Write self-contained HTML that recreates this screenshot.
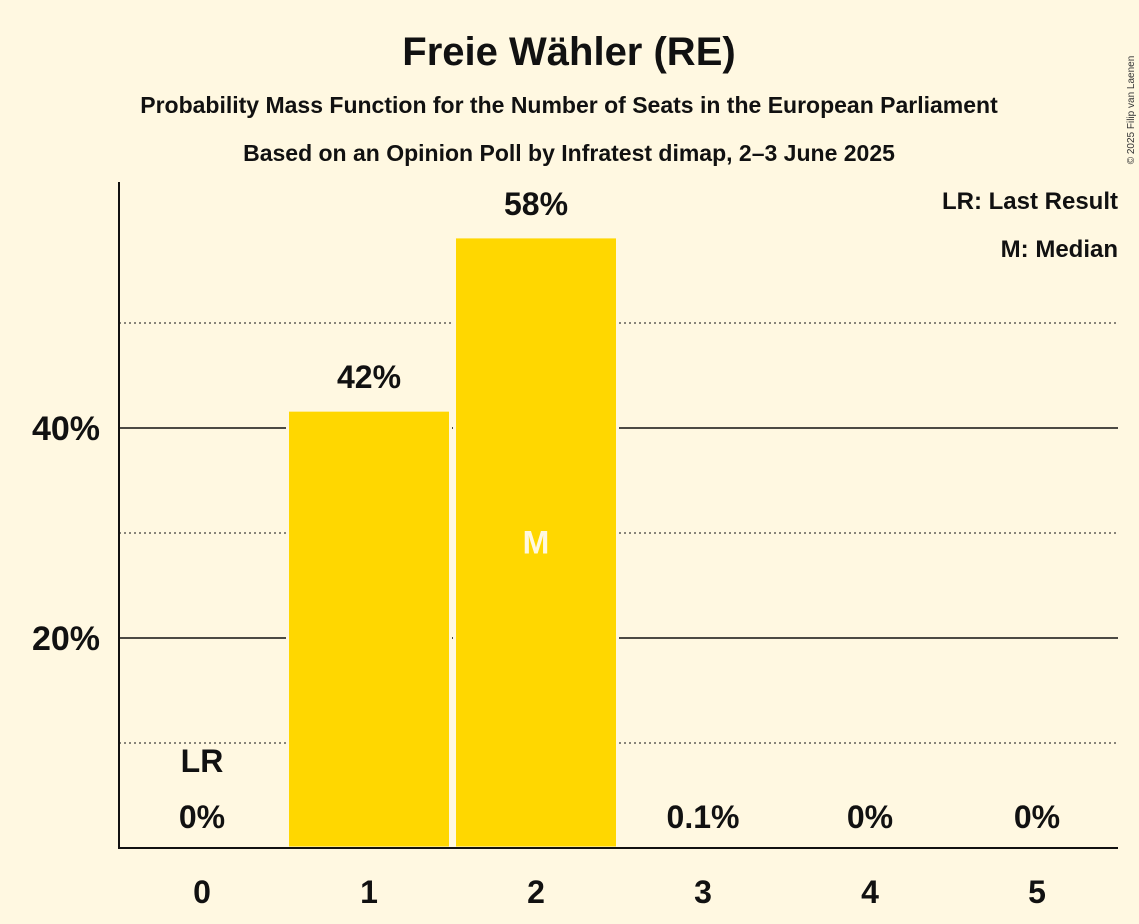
<!DOCTYPE html>
<html><head><meta charset="utf-8"><style>
body{margin:0;background:#FFF8E1;}
svg{display:block;font-family:"Liberation Sans",sans-serif;}
</style></head><body>
<svg width="1139" height="924" viewBox="0 0 1139 924">
<rect width="1139" height="924" fill="#FFF8E1"/>
<text x="569" y="65" text-anchor="middle" font-size="40" font-weight="bold" fill="#111">Freie Wähler (RE)</text>
<text x="569" y="113" text-anchor="middle" font-size="23" font-weight="bold" fill="#111">Probability Mass Function for the Number of Seats in the European Parliament</text>
<text x="569" y="161" text-anchor="middle" font-size="23" font-weight="bold" fill="#111">Based on an Opinion Poll by Infratest dimap, 2–3 June 2025</text>
<text transform="translate(1134,110) rotate(-90)" text-anchor="middle" font-size="10" fill="#333">© 2025 Filip van Laenen</text>
<text x="1118" y="209" text-anchor="end" font-size="24" font-weight="bold" fill="#111">LR: Last Result</text>
<text x="1118" y="257" text-anchor="end" font-size="24" font-weight="bold" fill="#111">M: Median</text>
<g id="grid"></g>
<g id="bars"></g>
<line x1="119" y1="182" x2="119" y2="849" stroke="#111" stroke-width="2"/>
<line x1="118" y1="848" x2="1118" y2="848" stroke="#111" stroke-width="2"/>
</svg>
<script>
const categories=[0,1,2,3,4,5];
const values=[0,41.7,58.2,0.1,0,0];
const valueLabels=["0%","42%","58%","0.1%","0%","0%"];
const yTicks=[20,40];
const yDotted=[10,30,50];
const lastResultIndex=0;
const medianIndex=2;
const ns="http://www.w3.org/2000/svg";
const y=v=>848-v*10.5;
const x=i=>202+i*167;
const bw=163;
const g=document.getElementById('grid'),b=document.getElementById('bars');
function mk(tag,attrs,parent){const e=document.createElementNS(ns,tag);for(const k in attrs)e.setAttribute(k,attrs[k]);parent.appendChild(e);return e;}
yDotted.forEach(v=>{const l=mk('line',{x1:119,x2:1118,y1:y(v),y2:y(v),stroke:'#111','stroke-width':1,'stroke-dasharray':'2,3'},g);

});
yTicks.forEach(v=>{const l=mk('line',{x1:119,x2:1118,y1:y(v),y2:y(v),stroke:'#111','stroke-width':1.5},g);


const t=mk('text',{x:100,y:y(v)+12,'text-anchor':'end','font-size':34,'font-weight':'bold',fill:'#111'},g);t.textContent=v+'%';

});
categories.forEach((c,i)=>{
 if(values[i]>0.5){const r=mk('rect',{x:x(i)-bw/2,y:y(values[i]),width:bw,height:848-y(values[i]),fill:'#FFD700',stroke:'#FFF8E1','stroke-width':3},b);
 
 }
 const ly=values[i]>0.5?y(values[i])-22:828;
 const t=mk('text',{x:x(i),y:ly,'text-anchor':'middle','font-size':32,'font-weight':'bold',fill:'#111'},b);t.textContent=valueLabels[i];
 
 
 const xt=mk('text',{x:x(i),y:903,'text-anchor':'middle','font-size':32,'font-weight':'bold',fill:'#111'},b);xt.textContent=c;
 
 
});
const lr=mk('text',{x:x(lastResultIndex),y:772,'text-anchor':'middle','font-size':32,'font-weight':'bold',fill:'#111'},b);lr.textContent='LR';


const m=mk('text',{x:x(medianIndex),y:y(values[medianIndex]/2)+11,'text-anchor':'middle','font-size':32,'font-weight':'bold',fill:'#FFF8E1'},b);m.textContent='M';


</script>
</body></html>
